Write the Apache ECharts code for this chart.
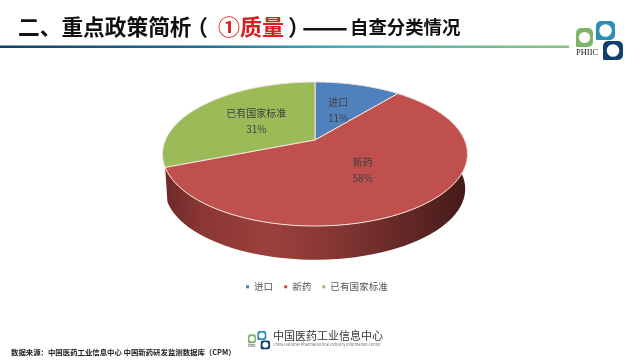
<!DOCTYPE html>
<html><head><meta charset="utf-8">
<style>html,body{margin:0;padding:0;background:#fff}#c{width:640px;height:360px}</style>
<script src="https://cdn.jsdelivr.net/npm/echarts@6/dist/echarts.min.js"></script>
</head><body><div id="c"></div>
<script>
var categories = ['进口', '新药', '已有国家标准'];
var shares = [11, 58, 31];
var colors = ['#4f81bd', '#c0504d', '#9bbb59'];
var titleParts = ['二、重点政策简析', '（', '①质量', '）', '——', '自查分类情况'];
var sourceText = '数据来源：中国医药工业信息中心 中国新药研发监测数据库（CPM）';
var orgName = '中国医药工业信息中心';
var orgNameEn = 'China National Pharmaceutical Industry Information Center';

var FONT = '"Noto Sans CJK SC","Noto Sans",sans-serif';
var P = {cx: 315, cy: 140, a: 69.3, b: 149.6, k: 0.1944, depth: 35, shrink: 0.985};
var total = shares.reduce(function (s, v) { return s + v; }, 0);

function project(deg, r) {
  var t = deg * Math.PI / 180, u = r * Math.sin(t), v = r * Math.cos(t), d = 1 + P.k * v;
  return [P.b * u / d, -P.a * v / d];
}
function arc(a0, a1) {
  var pts = [], n = 72;
  for (var i = 0; i <= n; i++) pts.push(project(a0 + (a1 - a0) * i / n, 1));
  return pts;
}
function renderSlice(index) {
  return function (params, api) {
    var before = 0;
    for (var i = 0; i < index; i++) before += shares[i];
    var a0 = before / total * 360, a1 = (before + api.value(0)) / total * 360;
    var top = arc(a0, a1);
    var face = [[P.cx, P.cy]].concat(top.map(function (p) { return [P.cx + p[0], P.cy + p[1]]; }));
    var mid = project((a0 + a1) / 2, 0.5);
    var children = [];
    if (index === 1) {
      var upper = top.map(function (p) { return [P.cx + p[0], P.cy + p[1]]; });
      var lower = top.slice().reverse().map(function (p) { return [P.cx + p[0] * P.shrink, P.cy + p[1] * P.shrink + P.depth]; });
      children.push({
        type: 'polygon', shape: {points: upper.concat(lower)},
        style: {fill: new echarts.graphic.LinearGradient(0, 0, 1, 0, [
          {offset: 0, color: '#6e2a28'}, {offset: 0.12, color: '#8a3735'},
          {offset: 0.35, color: '#9c403d'}, {offset: 0.6, color: '#803432'},
          {offset: 0.85, color: '#5a2523'}, {offset: 1, color: '#431b1a'}
        ])}
      });
    }
    children.push({
      type: 'polygon', shape: {points: face},
      style: {fill: colors[index], stroke: '#f4e6df', lineWidth: 1, lineJoin: 'round'}
    });
    children.push({
      type: 'text', x: P.cx + mid[0], y: P.cy + mid[1],
      style: {text: categories[index] + '\n' + api.value(0) + '%', fill: '#3f3f3f', font: '10px ' + FONT,
        align: 'center', verticalAlign: 'middle', lineHeight: 16}
    });
    return {type: 'group', children: children};
  };
}
function logo(x, y, s, text, textSize, tx, ty) {
  function box(bx, by, w, h, col) {
    return [
      {type: 'rect', shape: {x: x + bx * s, y: y + by * s, width: w * s, height: h * s, r: [5 * s, 5 * s, 5 * s, 1]}, style: {fill: col}},
      {type: 'circle', shape: {cx: x + (bx + w / 2) * s, cy: y + (by + h / 2) * s, r: Math.min(w, h) * 0.33 * s}, style: {fill: '#fff'}}
    ];
  }
  return box(0, 7, 17, 19, '#7fb56b').concat(box(20, 0, 19, 19, '#2d8db5'), box(27, 20, 20, 19, '#123f6d'),
    [{type: 'text', x: x + tx, y: y + ty, style: {text: text, fill: '#222', font: textSize + 'px "Liberation Serif",serif', verticalAlign: 'middle'}}]);
}
function t(text, x, y, size, fill, weight) {
  return {type: 'text', x: x, y: y, style: {text: text, fill: fill, font: (weight || 'normal') + ' ' + size + 'px ' + FONT, verticalAlign: 'middle'}};
}
var elements = [
  t(titleParts[0], 18, 27, 21.7, '#111', 'bold'),
  t(titleParts[1], 186, 27, 22, '#111', 'bold'),
  t(titleParts[2], 218, 27, 22, '#d81e1e', 'bold'),
  t(titleParts[3], 288, 27, 22, '#111', 'bold'),
  t(titleParts[4], 302, 27, 27, '#111', 'bold'),
  t(titleParts[5], 350, 27, 18.4, '#111', 'bold'),
  {type: 'rect', shape: {x: 0, y: 45.5, width: 569, height: 2.5}, style: {fill: new echarts.graphic.LinearGradient(0, 0, 1, 0, [
    {offset: 0, color: '#123f6d'}, {offset: 0.35, color: '#1d6f95'}, {offset: 0.6, color: '#3fb0bf'}, {offset: 1, color: '#8cc57a'}
  ])}},
  t(sourceText, 11, 352, 7.4, '#222', 'bold'),
  t(orgName, 273, 335.5, 11, '#333'),
  t(orgNameEn, 273, 345, 3.9, '#777')
].concat(logo(576, 21, 1, 'PHIIC', 8.5, 0, 32), logo(248, 331, 0.47, 'PHIIC', 3, 0, 15));

var series = categories.map(function (name, i) {
  return {
    type: 'custom', name: name, coordinateSystem: 'none', animation: false,
    itemStyle: {color: colors[i]}, data: [[shares[i]]], renderItem: renderSlice(i), silent: true, z: i === 1 ? 3 : 2
  };
});
var chart = echarts.init(document.getElementById('c'), null, {renderer: 'canvas'});
chart.setOption({
  animation: false, backgroundColor: '#fff',
  legend: {
    data: categories, left: 241, top: 277, icon: 'rect', itemWidth: 3, itemHeight: 3, itemGap: 11,
    textStyle: {fontSize: 9.6, color: '#595959', fontFamily: FONT}, selectedMode: false
  },
  graphic: {elements: elements},
  series: series
});
</script></body></html>
